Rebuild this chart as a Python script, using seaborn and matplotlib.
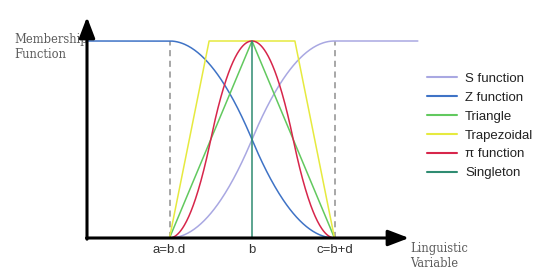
import numpy as np
import pandas as pd
import seaborn as sns
import matplotlib.pyplot as plt

# breakpoints (d = 1 unit)
a, b, c = -1.0, 0.0, 1.0
y_axis_x = -2.0
s_end = 2.01
trap_x = [-1.0, -0.52, 0.52, 1.0]
trap_y = [0, 1, 1, 0]
tri_x = [-1.0, 0.0, 1.0]
tri_y = [0, 1, 0]
single_x = [0.0, 0.0]
single_y = [0, 1]
tick_pos = [a, b, c]
tick_labels = ["a=b.d", "b", "c=b+d"]

names = ["S function", "Z function", "Triangle", "Trapezoidal", "π function", "Singleton"]
colors = ["#a9a8e2", "#3f73c6", "#62c95f", "#e6ea3f", "#d7264b", "#2f8c72"]


def s_curve(x, lo, hi):
    m = (lo + hi) / 2
    t = np.clip(x, lo, hi)
    return np.where(t <= m, 2 * ((t - lo) / (hi - lo)) ** 2,
                    1 - 2 * ((t - hi) / (hi - lo)) ** 2)


xs = np.linspace(a, s_end, 300)
xz = np.linspace(y_axis_x, c, 300)
xp = np.linspace(a, c, 300)
pi_y = np.where(xp <= b, s_curve(xp, a, b), 1 - s_curve(xp, b, c))

df = pd.concat([
    pd.DataFrame({"x": xs, "y": s_curve(xs, a, c), "f": names[0]}),
    pd.DataFrame({"x": xz, "y": 1 - s_curve(xz, a, c), "f": names[1]}),
    pd.DataFrame({"x": tri_x, "y": tri_y, "f": names[2]}),
    pd.DataFrame({"x": trap_x, "y": trap_y, "f": names[3]}),
    pd.DataFrame({"x": xp, "y": pi_y, "f": names[4]}),
    pd.DataFrame({"x": single_x, "y": single_y, "f": names[5]}),
], ignore_index=True)

sns.set_style("white")
fig = plt.figure(figsize=(5.5, 2.79), dpi=100)
ax = fig.add_axes([0, 0, 1, 1])
px_x, px_y = 82.5, 197.0
ax.set_xlim((0 - 252) / px_x, (550 - 252) / px_x)
ax.set_ylim((238 - 279) / px_y, 238 / px_y)
ax.axis("off")

# dashed guides
for xv in [a, c]:
    ax.plot([xv, xv], [0, 1], color="#8f8f8f", lw=1.1, dashes=(4, 3), zorder=1)

sns.lineplot(data=df, x="x", y="y", hue="f", hue_order=names, palette=colors,
             sort=False, estimator=None, lw=1.1, ax=ax, zorder=3)

# axes with arrows
arrow = dict(arrowstyle="-|>,head_length=1.1,head_width=0.42", color="black",
             lw=2.2, mutation_scale=11.5, shrinkA=0, shrinkB=0)
ax.annotate("", xy=(y_axis_x, (238 - 17) / px_y), xytext=(y_axis_x, -0.006),
            arrowprops=arrow, zorder=5)
ax.annotate("", xy=((409 - 252) / px_x, 0), xytext=(y_axis_x - 0.006, 0),
            arrowprops=arrow, zorder=5)

for xv, lab in zip(tick_pos, tick_labels):
    ax.text(xv, -12 / px_y, lab, ha="center", va="center", fontsize=9.5,
            family="Liberation Sans", color="#333333")

ax.text((14 - 252) / px_x, (238 - 47) / px_y, "Membership\nFunction", ha="left",
        va="center", fontsize=8.3, family="DejaVu Serif", color="#5c5c5c",
        linespacing=1.18)
ax.text((410 - 252) / px_x, (238 - 256) / px_y, "Linguistic\nVariable", ha="left",
        va="center", fontsize=8.3, family="DejaVu Serif", color="#5c5c5c",
        linespacing=1.18)

leg = ax.legend(loc="upper left", bbox_to_anchor=(415 / 550, 1 - 61 / 279),
                frameon=False, handlelength=2.3, handletextpad=0.6,
                labelspacing=0.5, prop={"family": "Liberation Sans", "size": 9.5})
for line in leg.get_lines():
    line.set_linewidth(1.5)
for t in leg.get_texts():
    t.set_color("#222222")

fig.savefig("out.png", dpi=100)
